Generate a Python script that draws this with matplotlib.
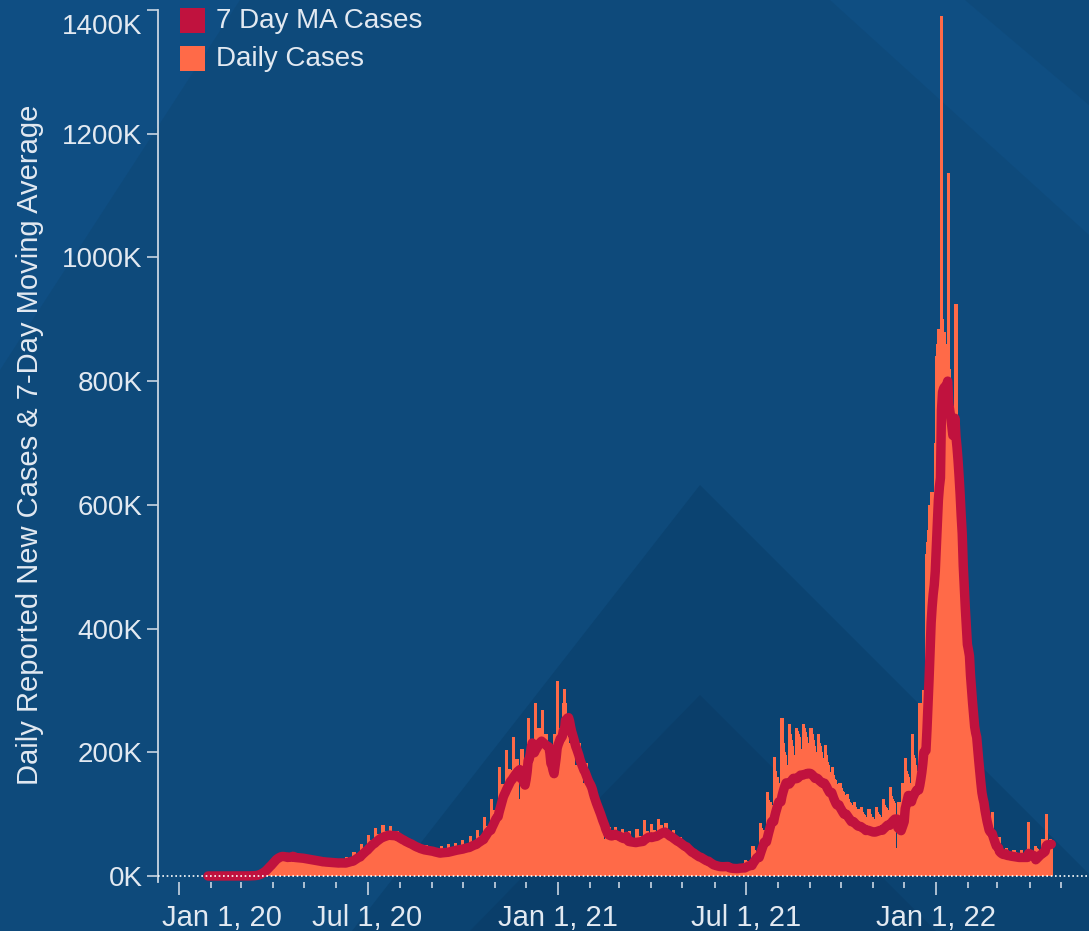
import pandas as pd
import matplotlib
matplotlib.use("Agg")
import matplotlib.pyplot as plt
from matplotlib.patches import Polygon, Rectangle
from matplotlib.transforms import ScaledTranslation
import matplotlib.dates as mdates

W, H = 1089, 931

# daily reported cases in thousands, one line per week (Thu..Wed), from Jan 23, 2020
start_date = "2020-01-23"

cases_2020 = [
    0, 0, 0, 0, 0, 0, 0,
    0, 0, 0, 0, 0, 0, 0,
    0, 0, 0, 0, 0, 0, 0,
    0, 0, 0, 0, 0, 0, 0,
    0, 0, 0, 0, 0, 0, 0,
    0, 0, 0, 0, 0, 0.1, 0.1,
    0.1, 0.1, 0.1, 0.2, 0.3, 0.5, 0.6,
    0.5, 0.9, 1.0, 1.1, 2.0, 2.5, 4.0,
    4.5, 6, 7, 8, 10, 11, 13,
    17, 19, 20, 19, 21, 25, 26,
    30, 32, 33, 28, 29, 31, 32,
    34, 34, 32, 27, 26, 27, 30,
    37, 33, 32, 31, 33, 23, 21,
    36, 32, 30, 30, 32, 22, 21,
    34, 30, 28, 28, 30, 20, 19,
    31, 28, 26, 26, 28, 19, 17,
    29, 25, 24, 24, 25, 17, 17,
    27, 24, 23, 23, 24, 17, 16,
    26, 23, 22, 22, 23, 16, 15,
    27, 23, 22, 21, 23, 16, 15,
    30, 26, 25, 25, 27, 18, 17,
    38, 34, 33, 33, 34, 23, 22,
    52, 46, 44, 44, 46, 32, 30,
    66, 58, 56, 56, 58, 40, 37,
    78, 68, 65, 65, 68, 47, 43,
    83, 73, 69, 69, 73, 50, 45,
    81, 72, 68, 68, 72, 49, 45,
    73, 64, 61, 61, 64, 43, 40,
    65, 57, 55, 55, 57, 39, 36,
    58, 51, 48, 48, 51, 34, 32,
    52, 46, 44, 44, 46, 32, 30,
    50, 44, 42, 42, 44, 30, 28,
    46, 41, 39, 39, 41, 28, 25,
    48, 42, 40, 40, 42, 28, 26,
    51, 45, 43, 43, 45, 31, 29,
    54, 47, 45, 45, 47, 32, 31,
    58, 51, 48, 48, 51, 34, 32,
    64, 56, 54, 54, 56, 38, 35,
    74, 65, 62, 62, 65, 44, 41,
    96, 81, 81, 81, 81, 52, 46,
    125, 106, 106, 106, 106, 67, 56,
    176, 149, 149, 148, 148, 95, 80,
    204, 173, 173, 173, 172, 110, 94,
    224, 189, 189, 189, 189, 120, 104,
    125, 205, 160, 145, 170, 180, 190,
    255, 220, 220, 220, 220, 140, 120,
    280, 240, 240, 240, 240, 154, 132,
    268, 230, 230, 230, 230, 147, 126,
    200, 110, 210, 175, 190, 230, 216,
]

# from Dec 31, 2020
cases_2021 = [
    316, 150, 240, 210, 200, 250, 279,
    303, 280, 250, 225, 205, 210, 215,
    250, 240, 210, 180, 160, 180, 180,
    215, 195, 175, 150, 130, 150, 161,
    182, 165, 145, 125, 110, 125, 128,
    135, 125, 110, 90, 80, 95, 100,
    100, 90, 75, 60, 50, 55, 74,
    70, 80, 70, 55, 50, 65, 72,
    80, 70, 65, 55, 45, 60, 59,
    76, 64, 64, 64, 62, 34, 28,
    73, 62, 62, 62, 59, 32, 28,
    76, 64, 64, 64, 62, 34, 28,
    90, 72, 72, 72, 69, 38, 28,
    84, 75, 75, 75, 72, 39, 35,
    92, 82, 82, 82, 78, 43, 38,
    85, 72, 72, 72, 69, 38, 33,
    74, 63, 63, 63, 61, 33, 28,
    63, 54, 54, 54, 52, 28, 24,
    50, 43, 43, 43, 40, 22, 18,
    40, 35, 35, 35, 33, 18, 14,
    32, 28, 28, 28, 26, 14, 12,
    23, 20, 20, 20, 18, 10, 8,
    20, 17, 17, 17, 17, 9, 8,
    20, 18, 18, 17, 17, 1, 0,
    18, 17, 16, 16, 16, 1, 0,
    20, 18, 18, 17, 17, 1, 0,
    26, 24, 23, 23, 22, 1, 0,
    48, 42, 40, 40, 38, 1, 1,
    85, 77, 74, 74, 71, 3, 1,
    135, 123, 119, 119, 114, 5, 1,
    193, 170, 160, 160, 150, 4, 3,
    256, 215, 200, 195, 180, 5, 0,
    245, 230, 220, 210, 195, 5, 1,
    240, 235, 230, 225, 206, 5, 0,
    245, 240, 232, 225, 215, 5, 0,
    240, 230, 220, 210, 200, 5, 1,
    230, 215, 210, 200, 190, 5, 0,
    212, 195, 185, 180, 168, 4, 1,
    177, 163, 157, 155, 148, 4, 1,
    150, 142, 137, 135, 131, 4, 1,
    133, 124, 120, 118, 115, 4, 2,
    120, 112, 108, 108, 108, 3, 1,
    112, 104, 100, 99, 96, 5, 2,
    108, 100, 96, 95, 92, 4, 2,
    112, 104, 100, 99, 96, 5, 2,
    125, 115, 112, 110, 107, 4, 1,
    144, 130, 125, 122, 118, 5, 0,
    45, 120, 115, 110, 150, 40, 36,
    190, 170, 165, 160, 150, 3, 2,
    230, 195, 190, 180, 170, 5, 3,
    280, 265, 270, 280, 300, 15, 10,
    520, 540, 560, 600, 620, 200, 150,
]

# from Dec 30, 2021
cases_2022 = [
    620, 700, 840, 860, 885, 350, 250,
    1390, 900, 880, 880, 860, 400, 290,
    1136, 820, 800, 780, 760, 480, 404,
    925, 700, 650, 600, 560, 240, 200,
    560, 450, 420, 390, 360, 180, 130,
    340, 290, 270, 250, 230, 110, 80,
    200, 160, 145, 130, 120, 45, 30,
    115, 95, 85, 80, 70, 25, 20,
    104, 55, 50, 45, 40, 15, 10,
    63, 42, 40, 38, 35, 20, 14,
    45, 40, 38, 36, 35, 15, 12,
    42, 38, 36, 35, 33, 14, 12,
    42, 37, 36, 35, 33, 14, 13,
    88, 33, 31, 30, 28, 8, 6,
    48, 45, 43, 42, 40, 18, 14,
    60, 50, 55, 100, 55, 20, 15,
    60, 55,
]

y_ticks_k = [0, 200, 400, 600, 800, 1000, 1200, 1400]
x_tick_dates = ["2020-01-01", "2020-07-01", "2021-01-01", "2021-07-01", "2022-01-01"]
x_tick_labels = ["Jan 1, 20", "Jul 1, 20", "Jan 1, 21", "Jul 1, 21", "Jan 1, 22"]
legend_labels = ["7 Day MA Cases", "Daily Cases"]
y_title = "Daily Reported New Cases & 7-Day Moving Average"

bar_color = "#ff6a48"
ma_color = "#c0123e"
text_color = "#e2e9f1"
axis_color = "#c9d5e2"

plt.rcParams["font.family"] = ["Liberation Sans", "DejaVu Sans"]

values = cases_2020 + cases_2021 + cases_2022
daily = pd.Series(values, index=pd.date_range(start_date, periods=len(values), freq="D"))
ma = daily.rolling(7).mean()

fig = plt.figure(figsize=(W / 100, H / 100), dpi=100)
fig.patch.set_facecolor("#0e4a7b")

# background shapes, in pixel coordinates
bg = fig.add_axes([0, 0, 1, 1], zorder=0)
bg.set_xlim(0, W)
bg.set_ylim(H, 0)
bg.axis("off")
shapes = [
    ([(0, 0), (240, 0), (0, 370)], "#0f4e83"),
    ([(830, 0), (W, 0), (W, 235)], "#0f4e82"),
    ([(965, 0), (W, 0), (W, 105)], "#0e4a7b"),
    ([(352, H), (700, 485), (W, 874), (W, H)], "#0b4371"),
    ([(470, H), (700, 695), (936, H)], "#0a3e6a"),
]
for pts, col in shapes:
    bg.add_patch(Polygon(pts, closed=True, facecolor=col, edgecolor="none"))

# legend
bg.add_patch(Rectangle((180, 8), 25, 25, facecolor=ma_color, edgecolor="none"))
bg.add_patch(Rectangle((180, 46), 25, 25, facecolor=bar_color, edgecolor="none"))
bg.text(216, 21, legend_labels[0], va="center", ha="left", fontsize=20, color=text_color)
bg.text(216, 59, legend_labels[1], va="center", ha="left", fontsize=20, color=text_color)

fig.text(30 / W, 1 - 445 / H, y_title, rotation=90, va="center", ha="center",
         fontsize=21, color=text_color)

ax = fig.add_axes([158 / W, (H - 882) / H, (W - 158) / W, (882 - 10) / H], zorder=1)
ax.patch.set_alpha(0)

ax.bar(daily.index, daily.values, width=3.1, color=bar_color, linewidth=0, zorder=2)
ax.plot(ma.index, ma.values, color=ma_color, lw=6.8, solid_joinstyle="round",
        solid_capstyle="round", zorder=3)
ax.axhline(0, color="white", lw=1.2, ls=(0, (1, 1.6)), zorder=4)

px_per_k = 866 / 1400
ax.set_ylim(-6 / px_per_k, 1400)
jan1 = mdates.date2num(pd.Timestamp("2020-01-01"))
ax.set_xlim(jan1 - 21 / 1.036, jan1 + (W - 179) / 1.036)

ax.set_yticks(y_ticks_k)
ax.set_yticklabels([f"{v}K" for v in y_ticks_k])
ax.set_xticks(pd.to_datetime(x_tick_dates))
ax.set_xticklabels(x_tick_labels)
ax.xaxis.set_minor_locator(mdates.MonthLocator())

ax.tick_params(axis="y", color=axis_color, labelcolor=text_color, labelsize=20,
               length=8, width=1.2, pad=3)
ax.tick_params(axis="x", which="major", color=axis_color, labelcolor=text_color,
               labelsize=21, length=9, width=1.2, pad=7)
ax.tick_params(axis="x", which="minor", color=axis_color, length=4, width=1.2)

for side in ["top", "right", "bottom"]:
    ax.spines[side].set_visible(False)
ax.spines["left"].set_color(axis_color)
ax.spines["left"].set_linewidth(1.3)

# nudge the top y label down and the first date label right, as in the original
top_lbl = ax.get_yticklabels()[-1]
top_lbl.set_transform(top_lbl.get_transform() + ScaledTranslation(0, -0.14, fig.dpi_scale_trans))
first_lbl = ax.get_xticklabels()[0]
first_lbl.set_transform(first_lbl.get_transform() + ScaledTranslation(0.43, 0, fig.dpi_scale_trans))

fig.savefig("out.png", dpi=100, facecolor=fig.get_facecolor())
